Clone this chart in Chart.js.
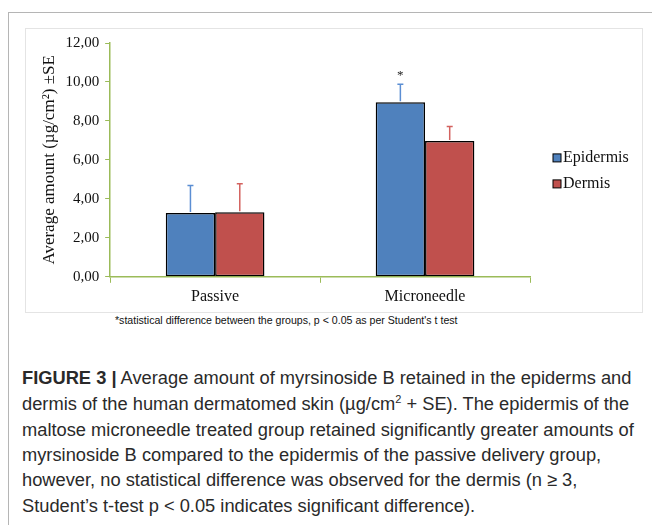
<!DOCTYPE html>
<html>
<head>
<meta charset="utf-8">
<script src="https://cdn.jsdelivr.net/npm/chart.js@4.4.0/dist/chart.umd.min.js"></script>
<style>
body { margin: 0; width: 652px; height: 525px; overflow: hidden; position: relative; background: #fff; font-family: "Liberation Sans", Arial, sans-serif; }
#frame { position: absolute; left: 8px; top: 12px; width: 700px; height: 600px; border-left: 1px solid #b5b5b5; border-top: 1px solid #b5b5b5; }
#box { position: absolute; left: 25px; top: 28px; width: 616px; height: 283px; border: 1px solid #e4e4e4; }
#wrap { position: absolute; left: 25px; top: 28px; width: 617px; height: 284px; }
#note { position: absolute; left: 115px; top: 314px; font-size: 10.6px; color: #111; white-space: nowrap; }
.cap { position: absolute; left: 22px; font-size: 18.3px; line-height: 18.3px; color: #2a2a2a; white-space: nowrap; }
.cap b { font-weight: bold; }
</style>
</head>
<body>
<div id="frame"></div>
<div id="box"></div>
<div id="wrap"><canvas id="myChart"></canvas></div>
<div id="note">*statistical difference between the groups, p &lt; 0.05 as per Student's t test</div>
<div class="cap" style="top:369px"><b>FIGURE 3 |</b> Average amount of myrsinoside B retained in the epiderms and</div>
<div class="cap" style="top:395px">dermis of the human dermatomed skin (µg/cm<sup style="font-size:11px;line-height:0">2</sup> + SE). The epidermis of the</div>
<div class="cap" style="top:421px">maltose microneedle treated group retained significantly greater amounts of</div>
<div class="cap" style="top:446px">myrsinoside B compared to the epidermis of the passive delivery group,</div>
<div class="cap" style="top:471px">however, no statistical difference was observed for the dermis (n ≥ 3,</div>
<div class="cap" style="top:497px">Student’s t-test p &lt; 0.05 indicates significant difference).</div>
<script>
const categories = ['Passive', 'Microneedle'];
const seriesNames = ['Epidermis', 'Dermis'];
const epidermis = [3.27, 8.96];
const dermis = [3.31, 6.97];
const epidermisSE = [1.41, 0.92];
const dermisSE = [1.46, 0.74];
const significant = [null, '*']; // marks over the epidermis bar
const yMin = 0, yMax = 12, yStep = 2;

const barColors = ['#4F81BD', '#C0504D'];
const errColors = ['#5B8ED3', '#D3625F'];
const errors = [epidermisSE, dermisSE];
const serif = '"Liberation Serif", "Times New Roman", serif';

const errorBars = {
    id: 'errorBars',
    afterDatasetsDraw(chart) {
        const ctx = chart.ctx;
        const y = chart.scales.y;
        ctx.save();
        chart.data.datasets.forEach(function (ds, i) {
            const meta = chart.getDatasetMeta(i);
            meta.data.forEach(function (bar, j) {
                const top = y.getPixelForValue(ds.data[j] + errors[i][j]);
                ctx.strokeStyle = errColors[i];
                ctx.lineWidth = 1.5;
                ctx.beginPath();
                ctx.moveTo(bar.x, bar.y - 1);
                ctx.lineTo(bar.x, top);
                ctx.moveTo(bar.x - 3, top);
                ctx.lineTo(bar.x + 3, top);
                ctx.stroke();
                if (i === 0 && significant[j]) {
                    ctx.fillStyle = '#222';
                    ctx.font = '13px ' + serif;
                    ctx.textAlign = 'center';
                    ctx.fillText(significant[j], bar.x, top - 5);
                }
            });
        });
        ctx.restore();
    }
};

const sideLegend = {
    id: 'sideLegend',
    afterDraw(chart) {
        const ctx = chart.ctx;
        const x = chart.chartArea.right + 23;
        const mid = (chart.chartArea.top + chart.chartArea.bottom) / 2;
        ctx.save();
        ctx.font = '16px ' + serif;
        ctx.textBaseline = 'middle';
        ctx.textAlign = 'left';
        seriesNames.forEach(function (name, i) {
            const cy = mid - 2 + i * 26;
            ctx.fillStyle = barColors[i];
            ctx.fillRect(x, cy - 4, 8, 8);
            ctx.strokeStyle = '#000';
            ctx.lineWidth = 1;
            ctx.strokeRect(x, cy - 4, 8, 8);
            ctx.fillStyle = '#111';
            ctx.fillText(name, x + 10, cy);
        });
        ctx.restore();
    }
};

const ctx = document.getElementById('myChart').getContext('2d');
new Chart(ctx, {
    type: 'bar',
    data: {
        labels: categories,
        datasets: [epidermis, dermis].map(function (vals, i) {
            return {
                label: seriesNames[i],
                data: vals,
                backgroundColor: barColors[i],
                borderColor: '#000',
                borderWidth: 1.5,
                borderSkipped: false,
                categoryPercentage: 0.47,
                barPercentage: 1.0,
            };
        }),
    },
    options: {
        responsive: true,
        maintainAspectRatio: false,
        animation: false,
        layout: { padding: { top: 7, right: 112, bottom: 2, left: 14 } },
        plugins: {
            legend: { display: false },
            tooltip: { enabled: false },
        },
        scales: {
            x: {
                grid: { drawOnChartArea: false, color: '#9BBB59', tickLength: 6, lineWidth: 1 },
                border: { color: '#9BBB59', width: 1.5 },
                ticks: { color: '#111', font: { family: serif, size: 16 }, padding: 4 },
            },
            y: {
                min: yMin,
                max: yMax,
                grid: { drawOnChartArea: false, color: '#9BBB59', tickLength: 5, lineWidth: 1 },
                border: { color: '#9BBB59', width: 1.5 },
                ticks: {
                    stepSize: yStep,
                    color: '#111',
                    font: { family: serif, size: 15 },
                    padding: 6,
                    callback: function (v) { return v.toFixed(2).replace('.', ','); },
                },
                title: {
                    display: true,
                    text: 'Average amount (µg/cm²) ±SE',
                    color: '#111',
                    font: { family: serif, size: 17 },
                    padding: { top: 0, bottom: 0 },
                },
            },
        },
    },
    plugins: [errorBars, sideLegend],
});
</script>
</body>
</html>
